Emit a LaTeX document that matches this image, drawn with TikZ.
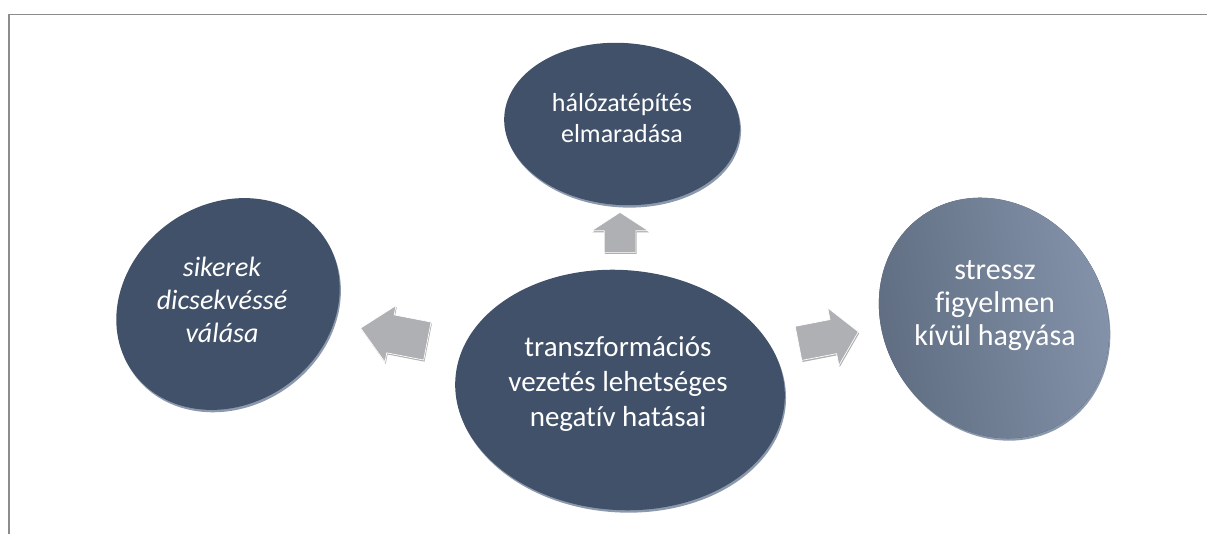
\documentclass[tikz,border=0pt]{standalone}
\usepackage{fontspec}
\setmainfont{Carlito}[Ligatures={NoCommon}]
\usetikzlibrary{positioning}
\usetikzlibrary{shapes.geometric}
\usetikzlibrary{shapes.arrows}
\usetikzlibrary{shadows}

\definecolor{bubblefill}{HTML}{415169}
\definecolor{bubblerim}{HTML}{8C99AC}
\definecolor{bubblelight}{HTML}{8695AC}
\definecolor{arrowgray}{HTML}{AEB0B3}
\definecolor{framegray}{HTML}{8C8C8C}

\tikzset{
    bubble/.style={
        shape=ellipse, fill=bubblefill, inner sep=0pt,
        general shadow={fill=bubblerim, shadow xshift=1.2pt, shadow yshift=-2.4pt}
    },
    bubble text/.style={text=white, align=center},
    block arrow/.style={
        shape=single arrow, fill=arrowgray, draw=white, line width=0.7pt,
        inner xsep=0pt, text height=0pt, text depth=0pt, single arrow head indent=0pt,
        general shadow={fill=gray!75!black, opacity=0.5, shadow xshift=0.8pt, shadow yshift=-1.6pt}
    }
}

\begin{document}
\begin{tikzpicture}[x=1pt, y=-1pt]
\useasboundingbox (0,0) rectangle (1207,534);

% keret
\draw[framegray, line width=1.6pt] (9,534) -- (9,14.5) -- (1207,14.5);

% buborekok
\node[bubble, minimum width=236pt, minimum height=162pt, rotate=-4] (topBubble) at (622,124) {};
\node[bubble, minimum width=234pt, minimum height=200pt, rotate=35] (leftBubble) at (228,304) {};
\node[bubble, minimum width=330pt, minimum height=240pt, rotate=-4] (centerBubble) at (620,390) {};
\node[bubble, minimum width=250pt, minimum height=220pt, rotate=-55,
      top color=bubblefill!85!white, bottom color=bubblelight, shading angle=100] (rightBubble) at (994,318) {};

% szovegek
\node[bubble text, font=\fontsize{26}{31}\selectfont] (topText) at (622,118) {hálózatépítés\\elmaradása};
\node[bubble text, font=\fontsize{28}{33}\selectfont\itshape] (leftText) at (222,300) {sikerek\\dicsekvéssé\\válása};
\node[bubble text, font=\fontsize{29}{35}\selectfont] (centerText) at (618,384) {transzformációs\\vezetés lehetséges\\negatív hatásai};
\node[bubble text, font=\fontsize{30}{33}\selectfont] (rightText) at (995,306) {stressz\\figyelmen\\kívül hagyása};

% nyilak
\node[block arrow, minimum height=40pt, inner ysep=15.5pt, single arrow head extend=12.5pt,
      single arrow tip angle=114, rotate=90] (upArrow) at (620,237.5) {};
\node[block arrow, minimum height=68pt, inner ysep=19pt, single arrow head extend=9.5pt,
      single arrow tip angle=87, rotate=169] (leftArrow) at (404,336.5) {};
\node[block arrow, minimum height=61pt, inner ysep=17pt, single arrow head extend=12pt,
      single arrow tip angle=98, rotate=11] (rightArrow) at (821,339) {};
\end{tikzpicture}
\end{document}
